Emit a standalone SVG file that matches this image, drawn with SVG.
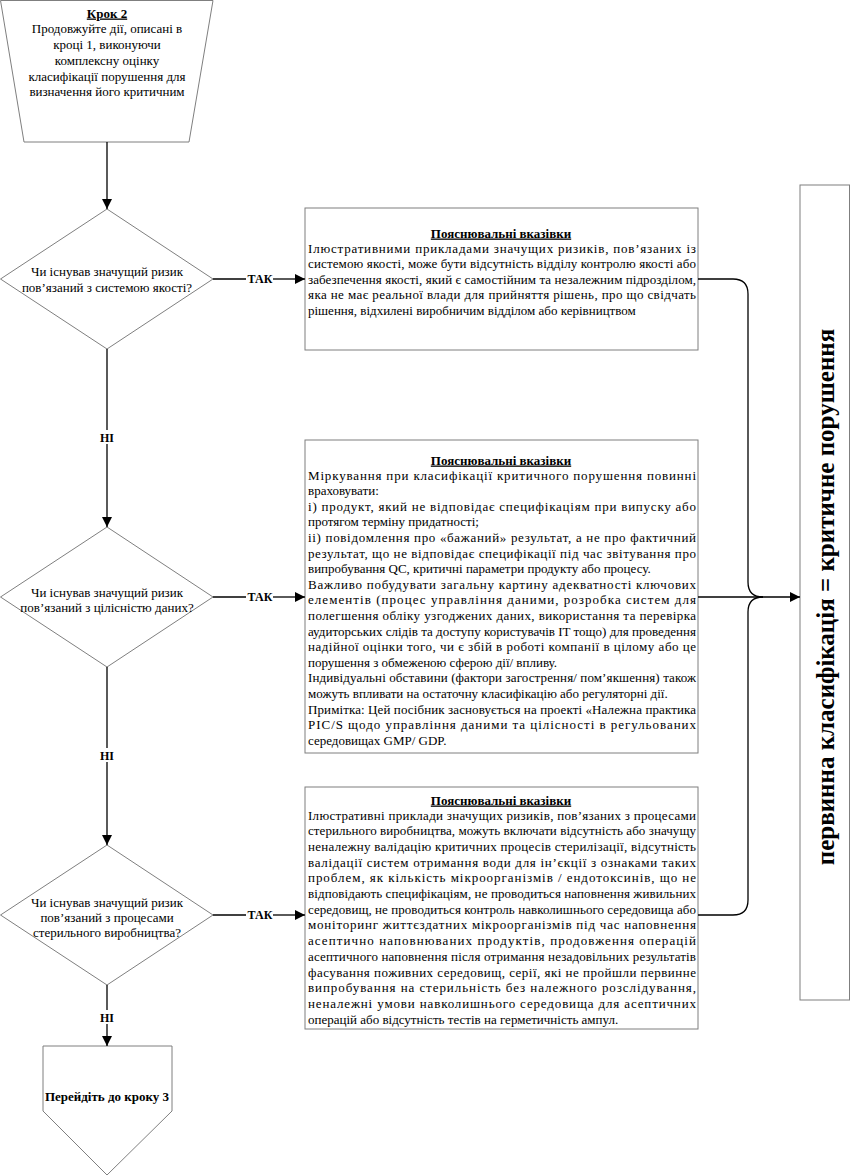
<svg xmlns="http://www.w3.org/2000/svg" width="850" height="1176" viewBox="0 0 850 1176">
<defs>
<marker id="ah" markerWidth="10" markerHeight="10" refX="10" refY="5" orient="auto" markerUnits="userSpaceOnUse">
<path d="M0,0 L10,5 L0,10 z" fill="#000"/>
</marker>
<style>
.sh{fill:#fff;stroke:#7f7f7f;stroke-width:1}
.t{font-family:"Liberation Serif","DejaVu Serif Condensed","DejaVu Serif",serif;font-size:13px;fill:#000}
.c{text-anchor:middle}
.b{font-weight:bold}
.u{text-decoration:underline}
.lbl{font-family:"Liberation Serif","DejaVu Serif Condensed","DejaVu Serif",serif;font-size:12px;font-weight:bold;text-anchor:middle}
.vt{font-family:"Liberation Serif","DejaVu Serif Condensed","DejaVu Serif",serif;font-size:25px;font-weight:bold;text-anchor:middle}
.cn{fill:none;stroke:#000;stroke-width:1.3}
</style>
</defs>
<rect width="850" height="1176" fill="#fff"/>

<g id="start">
<polygon class="sh" points="0.5,0.5 213,0.5 189,142 24,142"/>
<text class="t c b u" x="107" y="17.5">Крок 2</text>
<text class="t c" x="107" y="33">Продовжуйте дії, описані в</text>
<text class="t c" x="107" y="48.5">кроці 1, виконуючи</text>
<text class="t c" x="107" y="64.5">комплексну оцінку</text>
<text class="t c" x="107" y="80.5">класифікації порушення для</text>
<text class="t c" x="107" y="96">визначення його  критичним</text>
</g>

<g id="q1">
<polygon class="sh" points="107,209 213,279 107,349 0.5,279"/>
<text class="t c" x="107" y="275.5">Чи існував значущий ризик</text>
<text class="t c" x="107" y="291.5">пов’язаний з системою якості?</text>
</g>

<g id="q2">
<polygon class="sh" points="107,527 213,597 107,667 0.5,597"/>
<text class="t c" x="107" y="596.5">Чи існував значущий ризик</text>
<text class="t c" x="107" y="611.5">пов’язаний з цілісністю даних?</text>
</g>

<g id="q3">
<polygon class="sh" points="107,845 213,915 107,985 0.5,915"/>
<text class="t c" x="107" y="906.5">Чи існував значущий ризик</text>
<text class="t c" x="107" y="921.5">пов’язаний з процесами</text>
<text class="t c" x="107" y="936.5">стерильного виробництва?</text>
</g>

<g id="end">
<polygon class="sh" points="43,1046 172,1046 172,1111 107,1175 43,1111"/>
<text class="t c b" x="107" y="1101">Перейдіть до кроку 3</text>
</g>

<g id="note1">
<rect class="sh" x="305" y="208" width="393" height="142"/>
<text class="t c b u" x="501" y="237.5">Пояснювальні вказівки</text>
<text class="t" x="308" y="252.5" textLength="388" lengthAdjust="spacing">Ілюстративними прикладами значущих ризиків, пов’язаних із</text>
<text class="t" x="308" y="268" textLength="388" lengthAdjust="spacing">системою якості, може бути відсутність відділу контролю якості або</text>
<text class="t" x="308" y="283.5" textLength="388" lengthAdjust="spacing">забезпечення якості, який є самостійним та незалежним підрозділом,</text>
<text class="t" x="308" y="299" textLength="388" lengthAdjust="spacing">яка не має реальної влади для прийняття рішень, про що свідчать</text>
<text class="t" x="308" y="314.5">рішення, відхилені виробничим відділом або керівництвом</text>
</g>

<g id="note2">
<rect class="sh" x="305" y="440" width="393" height="313"/>
<text class="t c b u" x="501" y="464.5">Пояснювальні вказівки</text>
<text class="t" x="308" y="479.5" textLength="388" lengthAdjust="spacing">Міркування при класифікації критичного порушення повинні</text>
<text class="t" x="308" y="495.1">враховувати:</text>
<text class="t" x="308" y="510.7" textLength="388" lengthAdjust="spacing">i) продукт, який не відповідає специфікаціям при випуску або</text>
<text class="t" x="308" y="526.3">протягом терміну придатності;</text>
<text class="t" x="308" y="541.9" textLength="388" lengthAdjust="spacing">ii) повідомлення про «бажаний» результат, а не про фактичний</text>
<text class="t" x="308" y="557.5" textLength="388" lengthAdjust="spacing">результат, що не відповідає специфікації під час звітування про</text>
<text class="t" x="308" y="573.1">випробування QC, критичні параметри продукту або процесу.</text>
<text class="t" x="308" y="588.7" textLength="388" lengthAdjust="spacing">Важливо побудувати загальну картину адекватності ключових</text>
<text class="t" x="308" y="604.3" textLength="388" lengthAdjust="spacing">елементів (процес управління даними, розробка систем для</text>
<text class="t" x="308" y="619.9" textLength="388" lengthAdjust="spacing">полегшення обліку узгоджених даних, використання та перевірка</text>
<text class="t" x="308" y="635.5" textLength="388" lengthAdjust="spacing">аудиторських слідів та доступу користувачів IT тощо) для проведення</text>
<text class="t" x="308" y="651.1" textLength="388" lengthAdjust="spacing">надійної оцінки того, чи є збій в роботі компанії в цілому або це</text>
<text class="t" x="308" y="666.7">порушення з обмеженою сферою дії/ впливу.</text>
<text class="t" x="308" y="682.3" textLength="388" lengthAdjust="spacing">Індивідуальні обставини (фактори загострення/ пом’якшення) також</text>
<text class="t" x="308" y="697.9">можуть впливати на остаточну класифікацію або регуляторні дії.</text>
<text class="t" x="308" y="713.5" textLength="388" lengthAdjust="spacing">Примітка: Цей посібник засновується на проекті «Належна практика</text>
<text class="t" x="308" y="729.1" textLength="388" lengthAdjust="spacing">PIC/S щодо управління даними та цілісності в регульованих</text>
<text class="t" x="308" y="744.7">середовищах GMP/ GDP.</text>
</g>

<g id="note3">
<rect class="sh" x="305" y="787" width="393" height="242"/>
<text class="t c b u" x="501" y="804.5">Пояснювальні вказівки</text>
<text class="t" x="308" y="819.5" textLength="388" lengthAdjust="spacing">Ілюстративні приклади значущих ризиків, пов’язаних з процесами</text>
<text class="t" x="308" y="835.2" textLength="388" lengthAdjust="spacing">стерильного виробництва, можуть включати відсутність або значущу</text>
<text class="t" x="308" y="850.9" textLength="388" lengthAdjust="spacing">неналежну валідацію критичних процесів стерилізації, відсутність</text>
<text class="t" x="308" y="866.6" textLength="388" lengthAdjust="spacing">валідації систем отримання води для ін’єкції з ознаками таких</text>
<text class="t" x="308" y="882.3" textLength="388" lengthAdjust="spacing">проблем, як кількість мікроорганізмів / ендотоксинів, що не</text>
<text class="t" x="308" y="898" textLength="388" lengthAdjust="spacing">відповідають специфікаціям, не проводиться наповнення живильних</text>
<text class="t" x="308" y="913.7" textLength="388" lengthAdjust="spacing">середовищ, не проводиться контроль навколишнього середовища або</text>
<text class="t" x="308" y="929.4" textLength="388" lengthAdjust="spacing">моніторинг життєздатних мікроорганізмів під час наповнення</text>
<text class="t" x="308" y="945.1" textLength="388" lengthAdjust="spacing">асептично наповнюваних продуктів, продовження операцій</text>
<text class="t" x="308" y="960.8" textLength="388" lengthAdjust="spacing">асептичного наповнення після отримання незадовільних результатів</text>
<text class="t" x="308" y="976.5" textLength="388" lengthAdjust="spacing">фасування поживних середовищ,  серії, які не пройшли первинне</text>
<text class="t" x="308" y="992.2" textLength="388" lengthAdjust="spacing">випробування на стерильність без належного розслідування,</text>
<text class="t" x="308" y="1007.9" textLength="388" lengthAdjust="spacing">неналежні умови навколишнього середовища для асептичних</text>
<text class="t" x="308" y="1023.6">операцій або відсутність тестів на герметичність ампул.</text>
</g>

<g id="result">
<rect class="sh" x="800" y="185" width="49.5" height="815"/>
<text class="vt" transform="translate(834,597) rotate(-90)">первинна класифікація = критичне порушення</text>
</g>

<g id="connectors">
<line class="cn" x1="107" y1="142" x2="107" y2="209" marker-end="url(#ah)"/>
<line class="cn" x1="107" y1="349" x2="107" y2="430"/>
<line class="cn" x1="107" y1="444" x2="107" y2="527" marker-end="url(#ah)"/>
<text class="lbl" x="107" y="441.5">НІ</text>
<line class="cn" x1="107" y1="667" x2="107" y2="748"/>
<line class="cn" x1="107" y1="762" x2="107" y2="845" marker-end="url(#ah)"/>
<text class="lbl" x="107" y="759.5">НІ</text>
<line class="cn" x1="107" y1="985" x2="107" y2="1010"/>
<line class="cn" x1="107" y1="1024" x2="107" y2="1046" marker-end="url(#ah)"/>
<text class="lbl" x="107" y="1021.5">НІ</text>

<line class="cn" x1="213" y1="279" x2="246" y2="279"/>
<text class="lbl" x="260" y="283">ТАК</text>
<line class="cn" x1="273" y1="279" x2="305" y2="279" marker-end="url(#ah)"/>
<line class="cn" x1="213" y1="597" x2="246" y2="597"/>
<text class="lbl" x="260" y="601">ТАК</text>
<line class="cn" x1="273" y1="597" x2="305" y2="597" marker-end="url(#ah)"/>
<line class="cn" x1="213" y1="915" x2="246" y2="915"/>
<text class="lbl" x="260" y="919">ТАК</text>
<line class="cn" x1="273" y1="915" x2="305" y2="915" marker-end="url(#ah)"/>

<path class="cn" d="M698,279 H733 Q748,279 748,294 V582 Q748,597 763,597"/>
<path class="cn" d="M698,915 H733 Q748,915 748,900 V612 Q748,597 763,597"/>
<line class="cn" x1="698" y1="597" x2="800" y2="597" marker-end="url(#ah)"/>
</g>
</svg>
